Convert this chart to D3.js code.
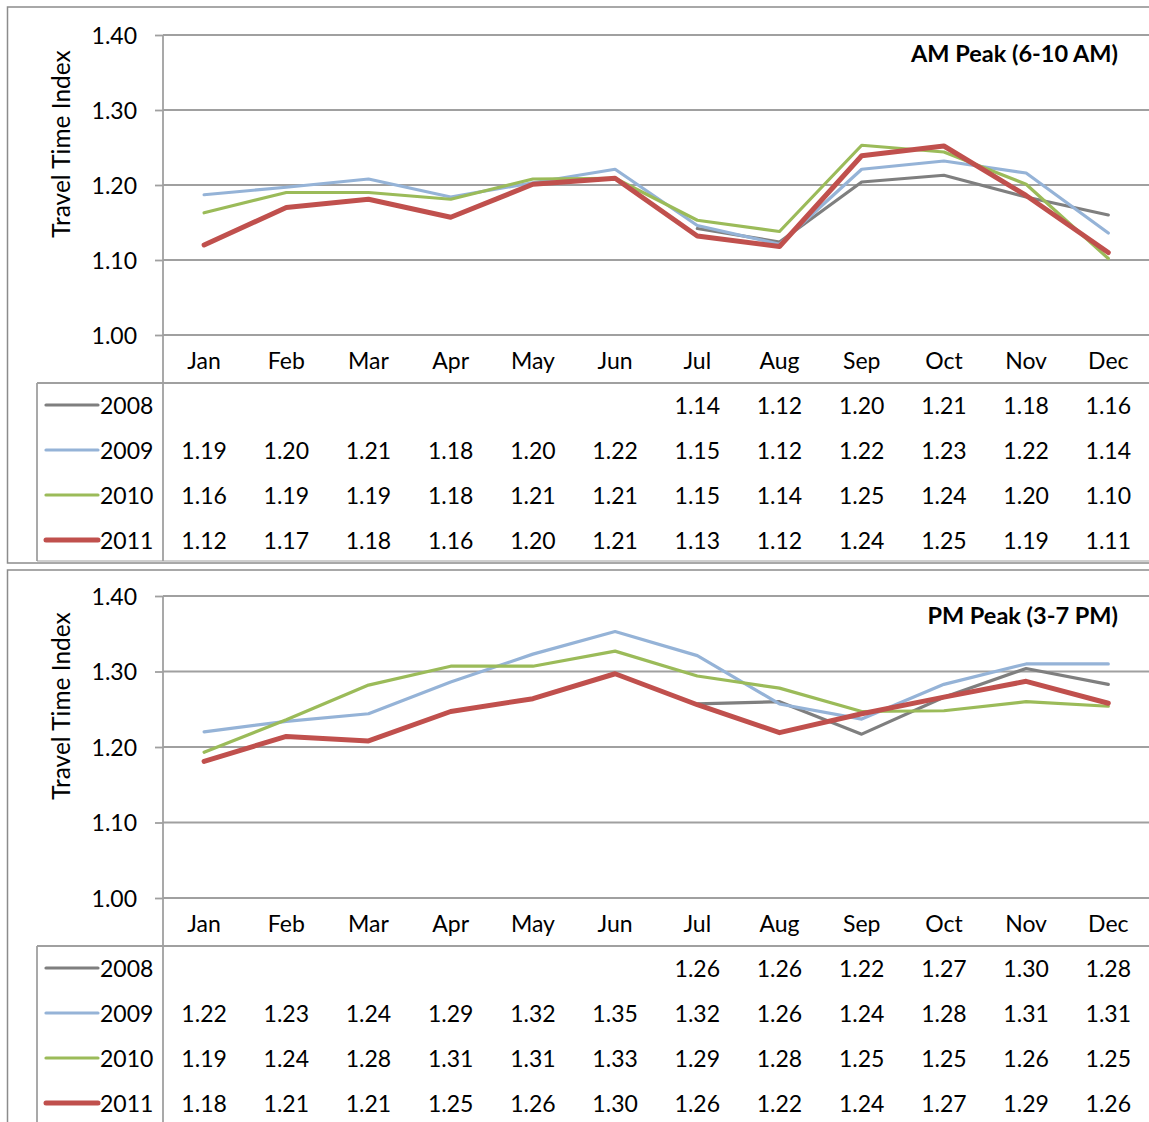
<!DOCTYPE html>
<html>
<head>
<meta charset="utf-8">
<script src="https://cdn.jsdelivr.net/npm/d3@7"></script>
<style>
  html, body { margin: 0; padding: 0; background: #fff; }
  svg { display: block; }
  text { font-family: Lato, "Open Sans", sans-serif; fill: #000; }
</style>
</head>
<body>
<svg id="chart" width="1149" height="1122"></svg>
<script>
// ---------- data ----------
const months = ["Jan","Feb","Mar","Apr","May","Jun","Jul","Aug","Sep","Oct","Nov","Dec"];
const years = ["2008","2009","2010","2011"];
const yTicks = [1.00, 1.10, 1.20, 1.30, 1.40];

const am2008 = [null,null,null,null,null,null,1.142,1.124,1.204,1.213,1.184,1.160];
const am2009 = [1.187,1.197,1.208,1.184,1.203,1.221,1.146,1.121,1.221,1.232,1.216,1.136];
const am2010 = [1.163,1.190,1.190,1.181,1.208,1.209,1.153,1.138,1.253,1.244,1.201,1.102];
const am2011 = [1.120,1.170,1.181,1.157,1.201,1.209,1.132,1.118,1.239,1.252,1.186,1.110];

const pm2008 = [null,null,null,null,null,null,1.257,1.260,1.217,1.266,1.304,1.283];
const pm2009 = [1.220,1.234,1.244,1.286,1.323,1.353,1.321,1.257,1.237,1.283,1.310,1.310];
const pm2010 = [1.193,1.236,1.282,1.307,1.307,1.327,1.294,1.278,1.247,1.248,1.260,1.254];
const pm2011 = [1.181,1.214,1.208,1.247,1.264,1.297,1.256,1.219,1.244,1.266,1.287,1.258];

const panelTitles = ["AM Peak (6-10 AM)", "PM Peak (3-7 PM)"];
const yAxisTitle = "Travel Time Index";

// ---------- styles ----------
const colors = {"2008": "#7f7f7f", "2009": "#95b3d7", "2010": "#9bbb59", "2011": "#c0504d"};
const widths = {"2008": 3.2, "2009": 3.2, "2010": 3.2, "2011": 5};
const gridColor = "#a0a0a0";

const svg = d3.select("#chart");
const plotLeft = 163, plotRight = 1149.4;
const x = d3.scaleBand().domain(months).range([plotLeft, plotRight]);

function drawPanel(cfg) {
  const g = svg.append("g");
  const series = cfg.series;

  // outer frame
  g.append("rect")
    .attr("x", 7.5).attr("y", cfg.frameTop)
    .attr("width", 1200).attr("height", cfg.frameBottom - cfg.frameTop)
    .attr("fill", "none").attr("stroke", "#8c8c8c").attr("stroke-width", 1.5);

  const y = d3.scaleLinear().domain([1.0, 1.4]).range([cfg.plotBottom, cfg.plotTop]);

  // grid lines
  g.append("g").selectAll("line").data(yTicks).join("line")
    .attr("x1", plotLeft).attr("x2", plotRight)
    .attr("y1", d => y(d)).attr("y2", d => y(d))
    .attr("stroke", gridColor).attr("stroke-width", 1.8);

  // y axis with ticks
  const axis = d3.axisLeft(y).tickValues(yTicks).tickFormat(d3.format(".2f"))
    .tickSizeInner(8).tickSizeOuter(0).tickPadding(18);
  const ag = g.append("g").attr("transform", `translate(${plotLeft},0)`).call(axis);
  ag.select(".domain").remove();
  ag.selectAll(".tick line").attr("stroke", gridColor).attr("stroke-width", 1.8);
  ag.selectAll(".tick text").style("font-size", "23px").style("font-family", "Lato, sans-serif")
    .attr("fill", "#000").attr("dy", "0.36em");

  // vertical axis line through the table
  g.append("line").attr("x1", plotLeft).attr("x2", plotLeft)
    .attr("y1", cfg.plotTop).attr("y2", cfg.tableBottom)
    .attr("stroke", gridColor).attr("stroke-width", 1.8);

  // table lines
  g.append("line").attr("x1", 37).attr("x2", plotRight)
    .attr("y1", cfg.tableTop).attr("y2", cfg.tableTop)
    .attr("stroke", gridColor).attr("stroke-width", 1.8);
  g.append("line").attr("x1", 37).attr("x2", 37)
    .attr("y1", cfg.tableTop).attr("y2", cfg.tableBottom)
    .attr("stroke", gridColor).attr("stroke-width", 1.8);
  g.append("line").attr("x1", 37).attr("x2", plotRight)
    .attr("y1", cfg.tableBottom).attr("y2", cfg.tableBottom)
    .attr("stroke", gridColor).attr("stroke-width", 1.2);

  // month labels
  g.append("g").selectAll("text").data(months).join("text")
    .attr("x", d => x(d) + x.bandwidth() / 2)
    .attr("y", cfg.monthBaseline)
    .attr("text-anchor", "middle")
    .style("font-size", "23px")
    .text(d => d);

  // lines
  const line = d3.line()
    .defined(d => d.v !== null)
    .x(d => x(d.m) + x.bandwidth() / 2)
    .y(d => y(d.v));
  years.forEach((yr, i) => {
    const pts = months.map((m, j) => ({m: m, v: series[i][j]}));
    g.append("path").datum(pts)
      .attr("d", line)
      .attr("fill", "none")
      .attr("stroke", colors[yr])
      .attr("stroke-width", widths[yr])
      .attr("stroke-linejoin", "round")
      .attr("stroke-linecap", "round");
  });

  // table rows
  years.forEach((yr, i) => {
    const cy = cfg.rowCenters[i];
    g.append("line").attr("x1", 46).attr("x2", 98)
      .attr("y1", cy).attr("y2", cy)
      .attr("stroke", colors[yr]).attr("stroke-width", widths[yr])
      .attr("stroke-linecap", "round");
    g.append("text").attr("x", 100).attr("y", cy + 8.5)
      .style("font-size", "23px").text(yr);
    g.append("g").selectAll("text").data(months.map((m, j) => ({m: m, v: series[i][j]})).filter(d => d.v !== null))
      .join("text")
      .attr("x", d => x(d.m) + x.bandwidth() / 2)
      .attr("y", cy + 8.5)
      .attr("text-anchor", "middle")
      .style("font-size", "23px")
      .text(d => d3.format(".2f")(d.v));
  });

  // panel title
  g.append("text").attr("x", 1118).attr("y", cfg.titleBaseline)
    .attr("text-anchor", "end")
    .style("font-size", "23.5px").style("font-weight", "bold")
    .text(cfg.title);

  // y axis title
  g.append("text")
    .attr("transform", `translate(70,${cfg.yTitleCenter}) rotate(-90)`)
    .attr("text-anchor", "middle")
    .style("font-size", "24.5px")
    .text(yAxisTitle);
}

drawPanel({
  title: panelTitles[0],
  series: [am2008, am2009, am2010, am2011],
  frameTop: 7, frameBottom: 563,
  plotTop: 35, plotBottom: 335,
  monthBaseline: 369,
  tableTop: 383, tableBottom: 561,
  rowCenters: [405, 450, 495, 540],
  titleBaseline: 62,
  yTitleCenter: 144
});

drawPanel({
  title: panelTitles[1],
  series: [pm2008, pm2009, pm2010, pm2011],
  frameTop: 570, frameBottom: 1140,
  plotTop: 596, plotBottom: 898,
  monthBaseline: 932,
  tableTop: 946, tableBottom: 1140,
  rowCenters: [968, 1013, 1058, 1103],
  titleBaseline: 624,
  yTitleCenter: 706
});
</script>
</body>
</html>
